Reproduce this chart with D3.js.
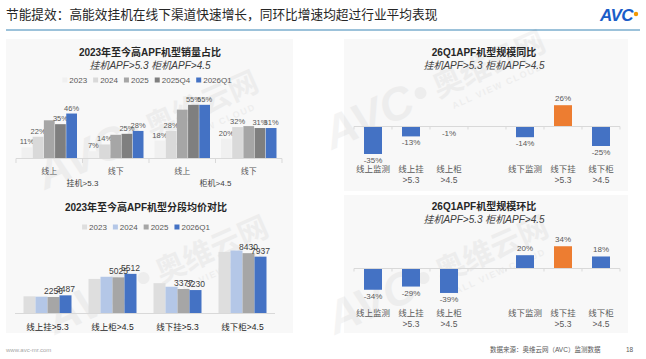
<!DOCTYPE html>
<html lang="zh">
<head>
<meta charset="UTF-8">
<title>节能提效</title>
<script src="https://cdn.jsdelivr.net/npm/d3@7"></script>
<style>
  html, body { margin: 0; padding: 0; background: #fff; }
  svg { display: block; font-family: "Liberation Sans", "Noto Sans CJK SC", sans-serif; }
  .card { fill: #f8f8f8; }
  .ctitle { font-size: 10px; font-weight: bold; fill: #262626; text-anchor: middle; }
  .csub { font-size: 10px; font-style: italic; fill: #404040; text-anchor: middle; }
  .leg { font-size: 8px; fill: #595959; }
  .lbl { font-size: 8px; fill: #595959; text-anchor: middle; }
  .cat { font-size: 8.5px; fill: #595959; text-anchor: middle; }
  .axis { stroke: #d9d9d9; stroke-width: 1; }
</style>
</head>
<body>
<svg width="646" height="359"></svg>
<script>
// 销量占比 (%)
const shareCats = ["线上", "线下", "线上", "线下"];
const shareParents = ["挂机>5.3", "柜机>4.5"];
const shareSeries = ["2023", "2024", "2025", "2025Q4", "2026Q1"];
const share2023 = [11, 7, 18, 20];
const share2024 = [22, 14, 28, 32];
const share2025 = [39, 24, 50, 33];
const share2025Q4 = [35, 25, 55, 31];
const share2026Q1 = [46, 28, 55, 31];
const shareColors = ["#f0f0f0", "#d9d9d9", "#a6a6a6", "#7f7f7f", "#4472c4"];

// 分段均价 (元)
const priceCats = ["线上挂>5.3", "线上柜>4.5", "线下挂>5.3", "线下柜>4.5"];
const priceSeries = ["2023", "2024", "2025", "2026Q1"];
const price2023 = [2350, 4800, 4200, 8600];
const price2024 = [2300, 5100, 3700, 8800];
const price2025 = [2256, 5025, 3377, 8430];
const price2026Q1 = [2487, 5512, 3230, 7937];
const priceColors = ["#dedede", "#b4c7e7", "#a6a6a6", "#4472c4"];

// 26Q1 同比 / 环比 (%)
const scaleCats = ["线上监测", "线上挂>5.3", "线上柜>4.5", "", "线下监测", "线下挂>5.3", "线下柜>4.5"];
const yoyValues = [-35, -13, -1, null, -14, 26, -25];
const momValues = [-34, -29, -39, null, 20, 34, 18];

const svg = d3.select("svg");

// 页眉
svg.append("text").attr("x", 6).attr("y", 19)
  .style("font-family", "'Noto Sans CJK SC', sans-serif").style("font-size", "12.7px").attr("fill", "#262626")
  .text("节能提效：高能效挂机在线下渠道快速增长，同环比增速均超过行业平均表现");
svg.append("rect").attr("x", 6).attr("y", 29).attr("width", 634).attr("height", 2).attr("fill", "#9cc2da");
svg.append("text").attr("x", 600).attr("y", 21).style("font-size", "17px").style("font-weight", "bold")
  .style("font-style", "italic").attr("fill", "#1a5dc8").attr("letter-spacing", -0.5).text("AVC");
svg.append("circle").attr("cx", 636).attr("cy", 14).attr("r", 2.2).attr("fill", "#f39800");

// 卡片背景
svg.append("rect").attr("class", "card").attr("x", 6).attr("y", 39).attr("width", 287).attr("height", 294);
svg.append("rect").attr("class", "card").attr("x", 344).attr("y", 39).attr("width", 284).attr("height", 152);
svg.append("rect").attr("class", "card").attr("x", 344).attr("y", 195).attr("width", 284).attr("height", 138);

// 水印
function watermark(x, y) {
  const g = svg.append("g").attr("transform", `translate(${x},${y}) rotate(-24)`)
    .attr("fill", "#000").attr("opacity", 0.04).style("pointer-events", "none");
  g.append("text").style("font-size", "46px").style("font-weight", "bold").style("font-style", "italic").text("AVC");
  g.append("circle").attr("cx", 104).attr("cy", -16).attr("r", 6);
  g.append("text").attr("x", 118).attr("y", -4).style("font-size", "30px").style("font-weight", "bold")
    .style("font-family", "'Noto Sans CJK SC'").text("奥维云网");
  g.append("text").attr("x", 128).attr("y", 12).style("font-size", "9px").style("font-weight", "bold")
    .attr("letter-spacing", 1.5).text("ALL VIEW CLOUD");
}
watermark(45, 190);
watermark(55, 335);
watermark(332, 150);
watermark(335, 335);

// 页脚
svg.append("text").attr("x", 6).attr("y", 352).style("font-size", "6px").attr("fill", "#a6a6a6").text("www.avc-mr.com");
svg.append("text").attr("x", 490).attr("y", 352).style("font-size", "6.5px").attr("fill", "#595959").text("数据来源：奥维云网（AVC）监测数据");
svg.append("text").attr("x", 626).attr("y", 352).style("font-size", "6.5px").attr("fill", "#595959").text("18");

function legend(items, colors, cx, y) {
  const lg = svg.append("g");
  let x = 0;
  items.forEach((name, i) => {
    const it = lg.append("g").attr("transform", `translate(${x},0)`);
    it.append("rect").attr("x", 0).attr("y", y - 5.5).attr("width", 5).attr("height", 5).attr("fill", colors[i]);
    const t = it.append("text").attr("class", "leg").attr("x", 7).attr("y", y).text(name);
    x += 7 + t.node().getComputedTextLength() + 6;
  });
  lg.attr("transform", `translate(${cx - (x - 6) / 2},0)`);
}

// ---- 图1 销量占比 ----
const shareData = [share2023, share2024, share2025, share2025Q4, share2026Q1];
svg.append("text").attr("class", "ctitle").attr("x", 150).attr("y", 56).text("2023年至今高APF机型销量占比");
svg.append("text").attr("class", "csub").attr("x", 150).attr("y", 69).text("挂机APF>5.3 柜机APF>4.5");
legend(shareSeries, shareColors, 147, 83);

const x1 = d3.scaleBand().domain(d3.range(shareCats.length)).range([16, 282]);
const x1s = d3.scaleBand().domain(shareSeries).range([5.5, x1.bandwidth() - 5.5]).paddingInner(0.04);
const y1 = d3.scaleLinear().domain([0, 60]).range([158, 100]);

shareSeries.forEach((s, si) => {
  const g = svg.append("g");
  g.selectAll("rect").data(shareData[si]).join("rect")
    .attr("x", (d, i) => x1(i) + x1s(s))
    .attr("y", d => y1(d))
    .attr("width", x1s.bandwidth())
    .attr("height", d => y1(0) - y1(d))
    .attr("fill", shareColors[si]);
  if (s !== "2025") {
    g.selectAll("text").data(shareData[si]).join("text")
      .attr("class", "lbl").style("font-size", "7.5px")
      .attr("x", (d, i) => x1(i) + x1s(s) + x1s.bandwidth() / 2)
      .attr("y", d => y1(d) - 3)
      .text(d => d + "%");
  }
});
svg.append("line").attr("class", "axis").attr("x1", 16).attr("x2", 282).attr("y1", 158.5).attr("y2", 158.5);
[0, 1, 2, 3, 4].forEach(i => {
  const xx = i < 4 ? x1(i) : x1.range()[1];
  svg.append("line").attr("class", "axis").attr("x1", xx).attr("x2", xx).attr("y1", 158.5).attr("y2", 163);
});
svg.selectAll(".cat1").data(shareCats).join("text")
  .attr("class", "cat").style("font-size", "8px")
  .attr("x", (d, i) => x1(i) + x1.bandwidth() / 2).attr("y", 174).text(d => d);
svg.selectAll(".par1").data(shareParents).join("text")
  .attr("class", "cat").style("font-size", "8px").style("fill", "#404040")
  .attr("x", (d, i) => x1(i * 2) + x1.bandwidth()).attr("y", 186).text(d => d);

// ---- 图2 分段均价 ----
const priceData = [price2023, price2024, price2025, price2026Q1];
svg.append("text").attr("class", "ctitle").attr("x", 146).attr("y", 211).text("2023年至今高APF机型分段均价对比");
legend(priceSeries, priceColors, 146, 230);

const x2 = d3.scaleBand().domain(priceCats).range([15, 275]);
const x2s = d3.scaleBand().domain(priceSeries).range([8.5, x2.bandwidth() - 8.5]);
const y2 = d3.scaleLinear().domain([0, 10000]).range([313, 242]);

priceSeries.forEach((s, si) => {
  const g = svg.append("g");
  g.selectAll("rect").data(priceData[si]).join("rect")
    .attr("x", (d, i) => x2(priceCats[i]) + x2s(s))
    .attr("y", d => y2(d))
    .attr("width", x2s.bandwidth())
    .attr("height", d => y2(0) - y2(d))
    .attr("fill", priceColors[si]);
  if (si >= 2) {
    g.selectAll("text").data(priceData[si]).join("text")
      .attr("class", "lbl").style("font-size", "8.5px").style("fill", "#404040")
      .attr("x", (d, i) => x2(priceCats[i]) + x2s(s) + x2s.bandwidth() / 2)
      .attr("y", d => y2(d) - 3)
      .text(d => d);
  }
});
svg.append("line").attr("class", "axis").attr("x1", 15).attr("x2", 275).attr("y1", 313.5).attr("y2", 313.5);
svg.selectAll(".cat2").data(priceCats).join("text")
  .attr("class", "cat").style("fill", "#262626")
  .attr("x", d => x2(d) + x2.bandwidth() / 2).attr("y", 330).text(d => d);

// ---- 图3/4 同比、环比 ----
function changeChart(values, title, ty, yDomain, yRange, line1y) {
  svg.append("text").attr("class", "ctitle").attr("x", 484).attr("y", ty).text(title);
  svg.append("text").attr("class", "csub").attr("x", 484).attr("y", ty + 13).text("挂机APF>5.3 柜机APF>4.5");
  const x = d3.scaleBand().domain(d3.range(scaleCats.length)).range([354, 620]);
  const y = d3.scaleLinear().domain(yDomain).range(yRange);
  const bw = 18;
  const data = values.map((v, i) => ({ v, i })).filter(d => d.v !== null);
  svg.append("g").selectAll("rect").data(data).join("rect")
    .attr("x", d => x(d.i) + (x.bandwidth() - bw) / 2)
    .attr("y", d => y(Math.max(0, d.v)))
    .attr("width", bw)
    .attr("height", d => Math.abs(y(d.v) - y(0)))
    .attr("fill", d => d.i === 5 ? "#ed7d31" : "#4472c4");
  svg.append("g").selectAll("text").data(data).join("text")
    .attr("class", "lbl")
    .attr("x", d => x(d.i) + x.bandwidth() / 2)
    .attr("y", d => d.v >= 0 ? y(d.v) - 4 : y(d.v) + 9)
    .text(d => d.v + "%");
  const y0 = Math.round(y(0)) + 0.5;
  svg.append("line").attr("class", "axis").attr("x1", 354).attr("x2", 620).attr("y1", y0).attr("y2", y0);
  d3.range(scaleCats.length + 1).forEach(i => {
    const xx = i < scaleCats.length ? x(i) : 620;
    svg.append("line").attr("class", "axis").attr("x1", xx).attr("x2", xx).attr("y1", y0).attr("y2", y0 + 3);
  });
  scaleCats.forEach((c, i) => {
    if (!c) return;
    const parts = c.split(">");
    const cx = x(i) + x.bandwidth() / 2;
    svg.append("text").attr("class", "cat").attr("x", cx).attr("y", line1y).text(parts[0]);
    if (parts[1]) svg.append("text").attr("class", "cat").attr("x", cx).attr("y", line1y + 11).text(">" + parts[1]);
  });
}
changeChart(yoyValues, "26Q1APF机型规模同比", 56, [-40, 30], [158, 102], 172);
changeChart(momValues, "26Q1APF机型规模环比", 210, [-45, 40], [296.8, 242.4], 316);
</script>
</body>
</html>
